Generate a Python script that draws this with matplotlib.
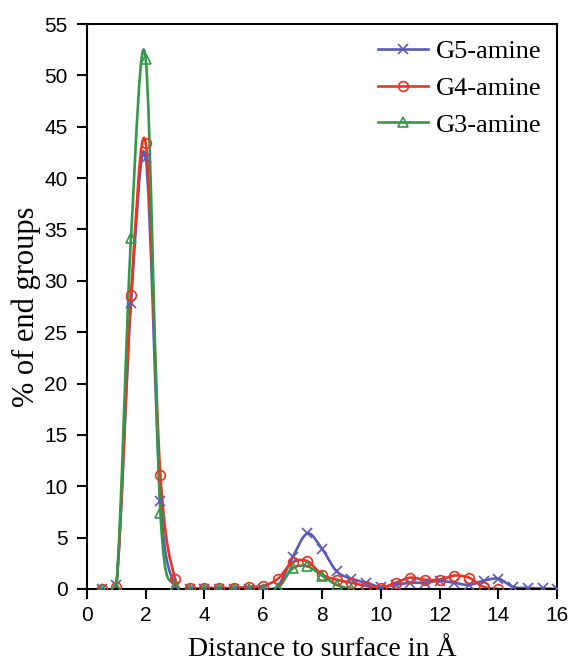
"""End-group distribution of amine dendrimers vs distance to surface."""

import matplotlib.pyplot as plt
import numpy as np
from matplotlib.lines import Line2D
from matplotlib.patches import PathPatch
from matplotlib.path import Path

# distance to surface (Angstrom), sampled every 0.5
x_g5 = [0.5, 1.0, 1.5, 2.0, 2.5, 3.0, 3.5, 4.0, 4.5, 5.0, 5.5, 6.0, 6.5, 7.0, 7.5, 8.0,
        8.5, 9.0, 9.5, 10.0, 10.5, 11.0, 11.5, 12.0, 12.5, 13.0, 13.5, 14.0, 14.5, 15.0,
        15.5, 16.0]
g5 = [0.0, 0.4, 27.8, 42.0, 8.6, 0.3, 0.0, 0.0, 0.0, 0.0, 0.0, 0.0, 0.3, 3.1, 5.4, 3.9,
      1.7, 1.0, 0.6, 0.2, 0.4, 0.6, 0.6, 0.8, 0.6, 0.4, 0.8, 1.0, 0.2, 0.1, 0.05, 0.0]

x_g4 = [0.5, 1.0, 1.5, 2.0, 2.5, 3.0, 3.5, 4.0, 4.5, 5.0, 5.5, 6.0, 6.5, 7.0, 7.5, 8.0,
        8.5, 9.0, 9.5, 10.0, 10.5, 11.0, 11.5, 12.0, 12.5, 13.0, 13.5, 14.0]
g4 = [0.0, 0.2, 28.6, 43.4, 11.1, 1.0, 0.1, 0.1, 0.1, 0.1, 0.2, 0.3, 1.0, 2.6, 2.7, 1.4,
      0.9, 0.6, 0.3, 0.1, 0.6, 1.1, 0.9, 0.9, 1.3, 1.1, 0.2, 0.0]

x_g3 = [0.5, 1.0, 1.5, 2.0, 2.5, 3.0, 3.5, 4.0, 4.5, 5.0, 5.5, 6.0, 6.5, 7.0, 7.5, 8.0,
        8.5, 9.0]
g3 = [0.0, 0.2, 34.2, 51.6, 7.4, 0.3, 0.0, 0.0, 0.0, 0.0, 0.0, 0.0, 0.1, 2.0, 2.2, 1.3,
      0.4, 0.0]

labels = ["G5-amine", "G4-amine", "G3-amine"]
colors = ["#5a5ab8", "#ee3322", "#33994a"]
markers = ["x", "o", "^"]


def smooth_path(xs, ys):
    """Excel-like smoothed line as cubic Bezier segments through the points."""
    p = np.column_stack([xs, ys])
    n = len(p)
    verts = [p[0]]
    codes = [Path.MOVETO]
    for i in range(n - 1):
        p0 = p[i - 1] if i > 0 else p[i]
        p1, p2 = p[i], p[i + 1]
        p3 = p[i + 2] if i + 2 < n else p[i + 1]
        c1 = p1 + (p2 - p0) / 6.0
        c2 = p2 - (p3 - p1) / 6.0
        verts += [c1, c2, p2]
        codes += [Path.CURVE4] * 3
    return Path(verts, codes)


fig = plt.figure(figsize=(5.68, 6.67), dpi=100)
ax = fig.add_axes([0.153, 0.117, 0.828, 0.847])

series = [(x_g5, g5), (x_g4, g4), (x_g3, g3)]
handles = []
for (xs, ys), lab, col, mk in zip(series, labels, colors, markers):
    ax.add_patch(PathPatch(smooth_path(xs, ys), facecolor="none", edgecolor=col, lw=1.9, zorder=2))
    ax.plot(xs, ys, linestyle="none", marker=mk, markersize=7, markerfacecolor="none",
            markeredgecolor=col, markeredgewidth=1.2, zorder=3)
    handles.append(Line2D([], [], color=col, lw=1.9, marker=mk, markersize=7,
                          markerfacecolor="none", markeredgecolor=col, markeredgewidth=1.2))

ax.set_xlim(0, 16)
ax.set_ylim(0, 55)
ax.set_xticks(np.arange(0, 17, 2))
ax.set_yticks(np.arange(0, 56, 5))

for s in ax.spines.values():
    s.set_linewidth(1.5)
ax.tick_params(direction="out", length=7, width=1.5, labelsize=15, pad=5)
ax.tick_params(axis="y", pad=7)
for t in ax.get_xticklabels() + ax.get_yticklabels():
    t.set_fontfamily("Liberation Sans")

ax.set_xlabel("Distance to surface in Å", family="Liberation Serif", fontsize=20, labelpad=9)
ax.set_ylabel("% of end groups", family="Liberation Serif", fontsize=22, labelpad=2)

ax.legend(handles, labels, loc="upper right", frameon=False, handlelength=1.9,
          handletextpad=0.3, labelspacing=0.5, borderaxespad=0.2,
          prop={"family": "Liberation Serif", "size": 19})

plt.savefig("out.png", dpi=100)
